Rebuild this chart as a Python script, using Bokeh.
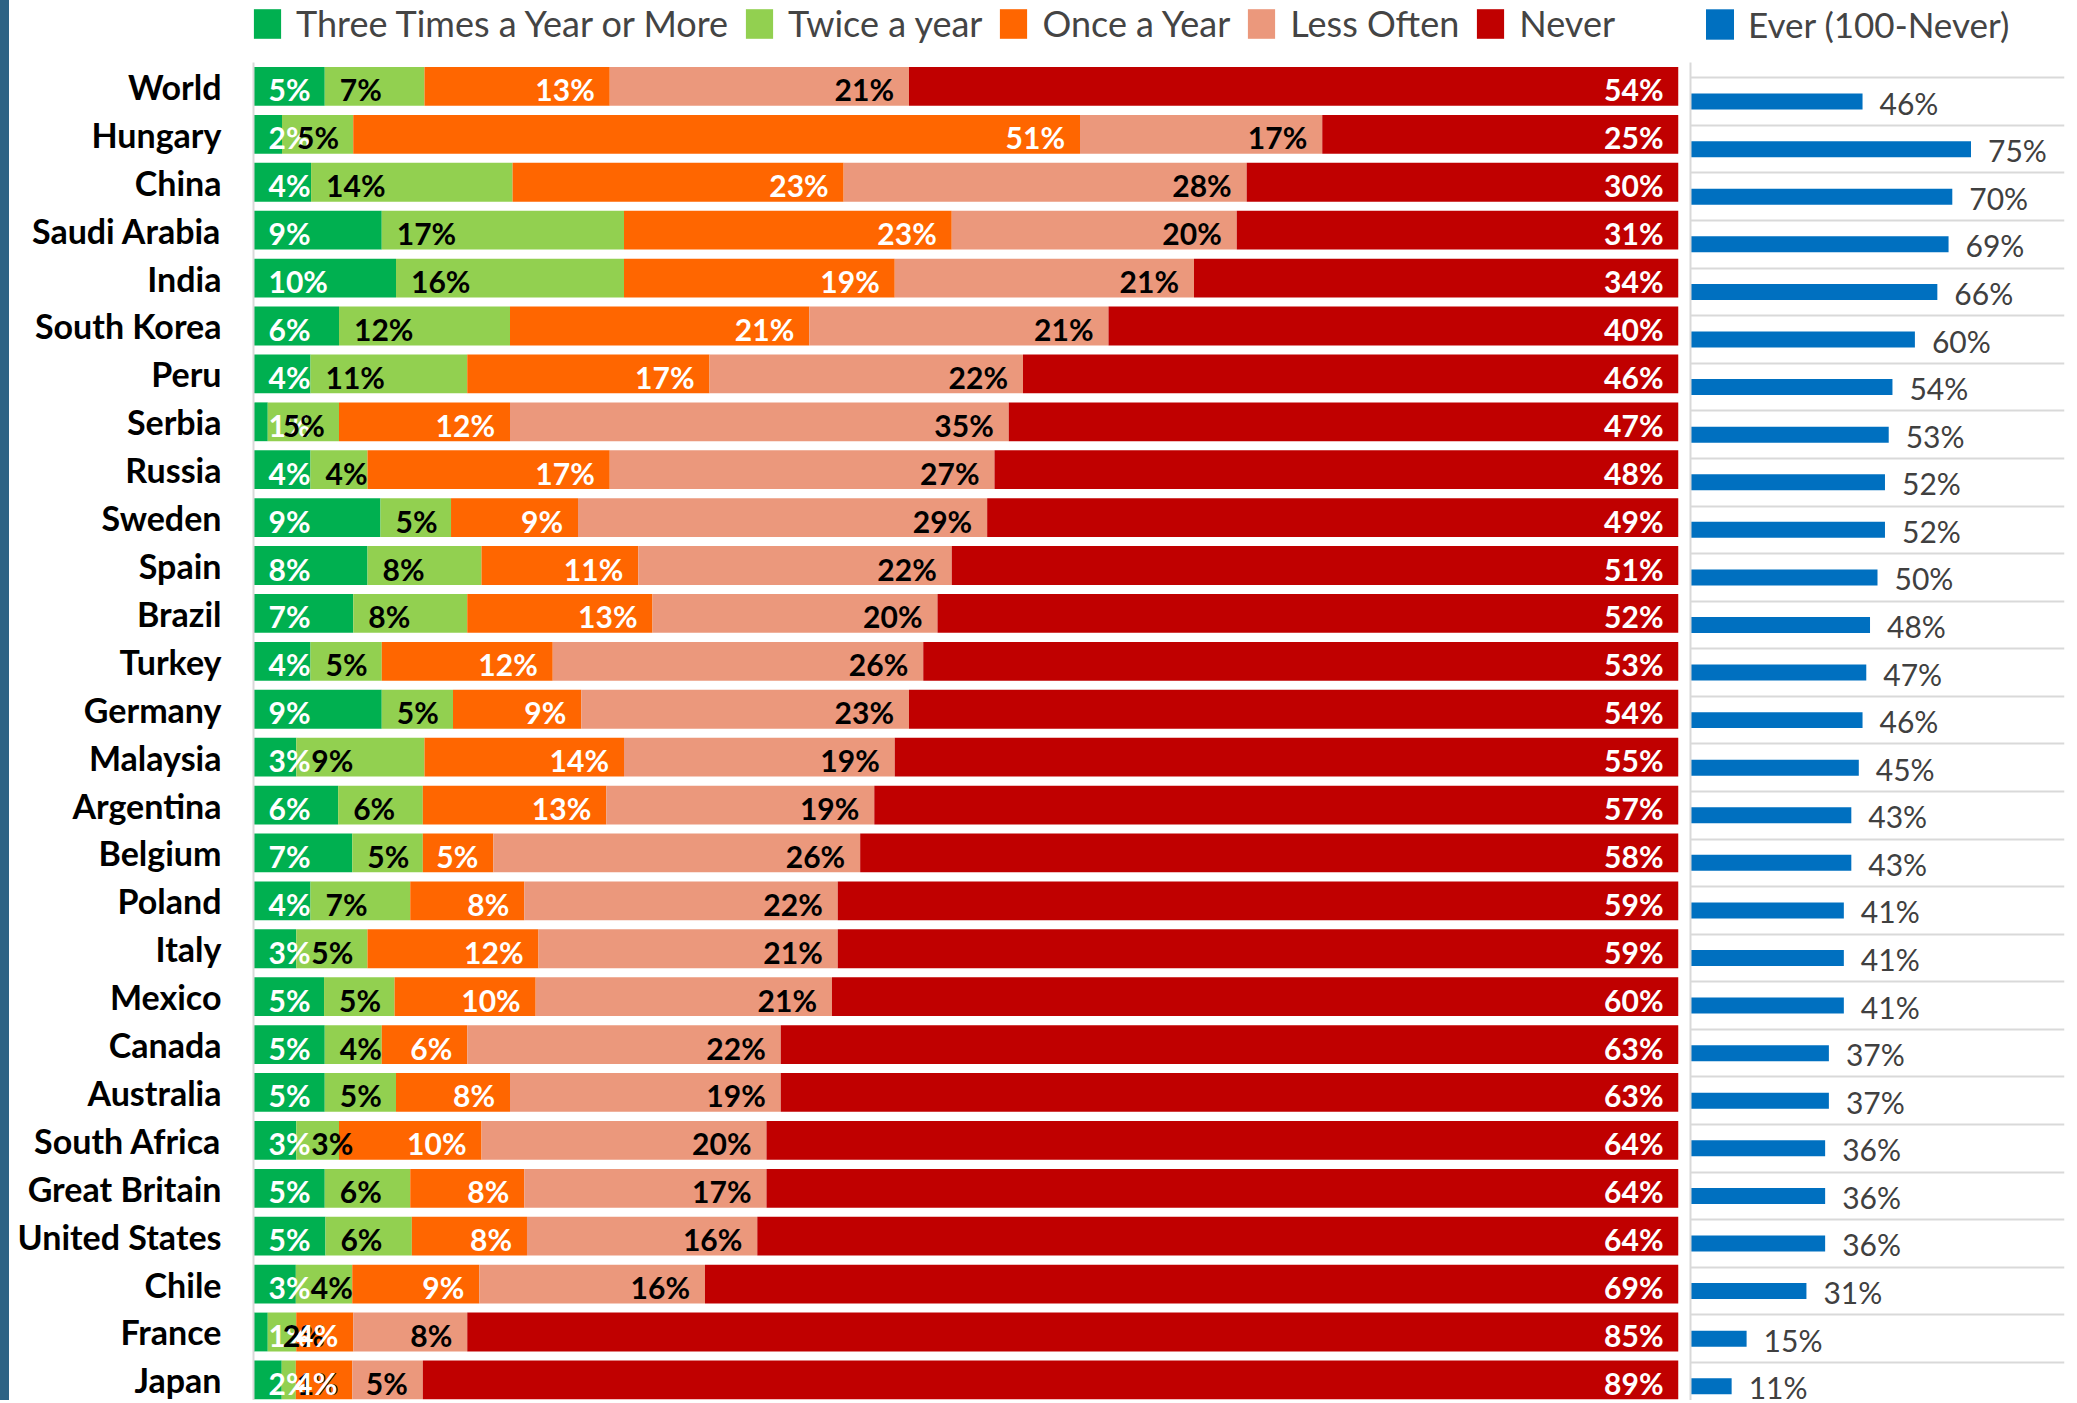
import numpy as np
import pandas as pd
from bokeh.plotting import figure
from bokeh.models import ColumnDataSource, Range1d, FixedTicker, Legend, LegendItem, Div
from bokeh.layouts import row, column
from bokeh.embed import file_html
from bokeh.resources import INLINE
from bokeh.core.properties import value

# ---------------- data ----------------
countries = ["World", "Hungary", "China", "Saudi Arabia", "India", "South Korea", "Peru",
             "Serbia", "Russia", "Sweden", "Spain", "Brazil", "Turkey", "Germany",
             "Malaysia", "Argentina", "Belgium", "Poland", "Italy", "Mexico", "Canada",
             "Australia", "South Africa", "Great Britain", "United States", "Chile",
             "France", "Japan"]
three_times = [5, 2, 4, 9, 10, 6, 4, 1, 4, 9, 8, 7, 4, 9, 3, 6, 7, 4, 3, 5, 5, 5, 3, 5, 5, 3, 1, 2]
twice = [7, 5, 14, 17, 16, 12, 11, 5, 4, 5, 8, 8, 5, 5, 9, 6, 5, 7, 5, 5, 4, 5, 3, 6, 6, 4, 2, 1]
once = [13, 51, 23, 23, 19, 21, 17, 12, 17, 9, 11, 13, 12, 9, 14, 13, 5, 8, 12, 10, 6, 8, 10, 8, 8, 9, 4, 4]
less_often = [21, 17, 28, 20, 21, 21, 22, 35, 27, 29, 22, 20, 26, 23, 19, 19, 26, 22, 21, 21, 22, 19, 20, 17, 16, 16, 8, 5]
never = [54, 25, 30, 31, 34, 40, 46, 47, 48, 49, 51, 52, 53, 54, 55, 57, 58, 59, 59, 60, 63, 63, 64, 64, 64, 69, 85, 89]
ever = [46, 75, 70, 69, 66, 60, 54, 53, 52, 52, 50, 48, 47, 46, 45, 43, 43, 41, 41, 41, 37, 37, 36, 36, 36, 31, 15, 11]

series_names = ["Three Times a Year or More", "Twice a year", "Once a Year", "Less Often", "Never"]
ever_name = "Ever (100-Never)"

# ---------------- styling ----------------
keys = ["three", "twice", "once", "less", "never"]
fills = ["#00b050", "#92d050", "#ff6600", "#eb987c", "#c00000"]
ever_fill = "#0070c0"
text_cols = ["white", "black", "white", "black", "white"]
anchor = ["base", "base", "end", "end", "end"]
FONT = "Lato"
STRIP_W = 9
LEG_H = 62
BODY_H = 1338

df = pd.DataFrame({"country": countries, "three": three_times, "twice": twice,
                   "once": once, "less": less_often, "never": never, "ever": ever})
df["y"] = np.arange(len(df))
total = df[keys].sum(axis=1)
for k in keys:
    df["w_" + k] = df[k] / total * 100.0      # 100% stacked bar
cum = df[["w_" + k for k in keys]].cumsum(axis=1)
for k in keys:
    df["end_" + k] = cum["w_" + k]
    df["start_" + k] = df["end_" + k] - df["w_" + k]
    df["lab_" + k] = df[k].astype(str) + "%"
df["lab_ever"] = df["ever"].astype(str) + "%"
src = ColumnDataSource(df)

# ---------------- main stacked chart ----------------
p = figure(width=1680 - STRIP_W, height=BODY_H, x_range=Range1d(0, 100),
           y_range=Range1d(27.43, -0.5),
           output_backend="svg", toolbar_location=None, x_axis_location=None,
           min_border_left=253 - STRIP_W, min_border_right=2, min_border_top=0,
           min_border_bottom=0)
rends = p.hbar_stack(["w_" + k for k in keys], y="y", height=0.81, fill_color=fills,
                     line_color=None, source=src)

for k, tc, an in zip(keys, text_cols, anchor):
    common = dict(y="y", text="lab_" + k, text_baseline="middle", y_offset=3, text_color=tc,
                  text_font=value(FONT), text_font_style="bold", text_font_size="30px",
                  source=src)
    if an == "base":
        p.text(x="start_" + k, x_offset=15, text_align="left", **common)
    else:
        p.text(x="end_" + k, x_offset=-15, text_align="right", **common)

p.yaxis.ticker = FixedTicker(ticks=list(range(len(countries))))
p.yaxis.major_label_overrides = {i: c for i, c in enumerate(countries)}
p.yaxis.major_label_text_font = FONT
p.yaxis.major_label_text_font_style = "bold"
p.yaxis.major_label_text_font_size = "34px"
p.yaxis.major_label_text_color = "black"
p.yaxis.major_tick_line_color = None
p.yaxis.minor_tick_line_color = None
p.yaxis.major_tick_out = 0
p.yaxis.major_tick_in = 0
p.yaxis.major_label_standoff = 32
p.yaxis.axis_line_color = "#d9d9d9"
p.yaxis.axis_line_width = 2
p.xgrid.visible = False
p.ygrid.visible = False
p.outline_line_color = None

# ---------------- right "Ever" chart ----------------
q = figure(width=397, height=BODY_H, x_range=Range1d(0, 100), y_range=Range1d(27.3, -0.822),
           output_backend="svg", toolbar_location=None, x_axis_location=None,
           min_border_left=10, min_border_right=13, min_border_top=0, min_border_bottom=0)
rb = q.hbar(y="y", left=0, right="ever", height=0.336, fill_color=ever_fill, line_color=None,
            source=src)
q.text(x="ever", y="y", text="lab_ever", x_offset=17, text_align="left", text_baseline="middle",
       y_offset=1, text_color="#404040", text_font=value(FONT), text_font_size="30px", source=src)
q.yaxis.ticker = FixedTicker(ticks=[])
q.yaxis.major_label_text_font_size = "0px"
q.yaxis.major_tick_line_color = None
q.yaxis.minor_tick_line_color = None
q.yaxis.major_tick_out = 0
q.yaxis.major_label_standoff = 0
q.yaxis.axis_line_color = "#d9d9d9"
q.yaxis.axis_line_width = 2
q.xgrid.visible = False
q.ygrid.ticker = FixedTicker(ticks=[i - 0.5 for i in range(len(countries) + 1)])
q.ygrid.grid_line_color = "#d9d9d9"
q.ygrid.grid_line_width = 2
q.outline_line_color = None

# ---------------- legend strip (top) ----------------
# the swatch renderers reuse the real data but the view of this strip lies outside it
lg = figure(width=2075 - STRIP_W, height=LEG_H, x_range=Range1d(-200, -199),
            y_range=Range1d(-200, -199),
            output_backend="svg", toolbar_location=None, x_axis_location=None,
            y_axis_location=None, min_border=0)
lg.xgrid.visible = False
lg.ygrid.visible = False
lg.outline_line_color = None
leg_rends = [lg.hbar(y="y", left="start_" + k, right="end_" + k, height=0.81, fill_color=c,
                     line_color=None, source=src) for k, c in zip(keys, fills)]
ever_rend = lg.hbar(y="y", left=0, right="ever", height=0.336, fill_color=ever_fill,
                    line_color=None, source=src)

legend = Legend(items=[LegendItem(label=n, renderers=[r]) for n, r in zip(series_names, leg_rends)],
                orientation="horizontal", location=(250 - STRIP_W, 17),
                glyph_width=34, glyph_height=37, label_standoff=12, spacing=14, padding=0,
                margin=0, border_line_color=None, background_fill_alpha=0,
                label_text_font=FONT, label_text_font_size="36px", label_height=29)
lg.add_layout(legend, "center")
legend2 = Legend(items=[LegendItem(label=ever_name, renderers=[ever_rend])],
                 location=(1702 - STRIP_W, 17),
                 glyph_width=35, glyph_height=38, label_standoff=11, padding=0, margin=0,
                 border_line_color=None, background_fill_alpha=0, label_text_font=FONT,
                 label_text_font_size="35px", label_height=30)
lg.add_layout(legend2, "center")

strip = Div(text="", width=STRIP_W, height=LEG_H + BODY_H, margin=0,
            styles={"background-color": "#2e6384"})

layout = row(strip, column(lg, row(p, q)))
open("out.html", "w").write(file_html(layout, INLINE))
